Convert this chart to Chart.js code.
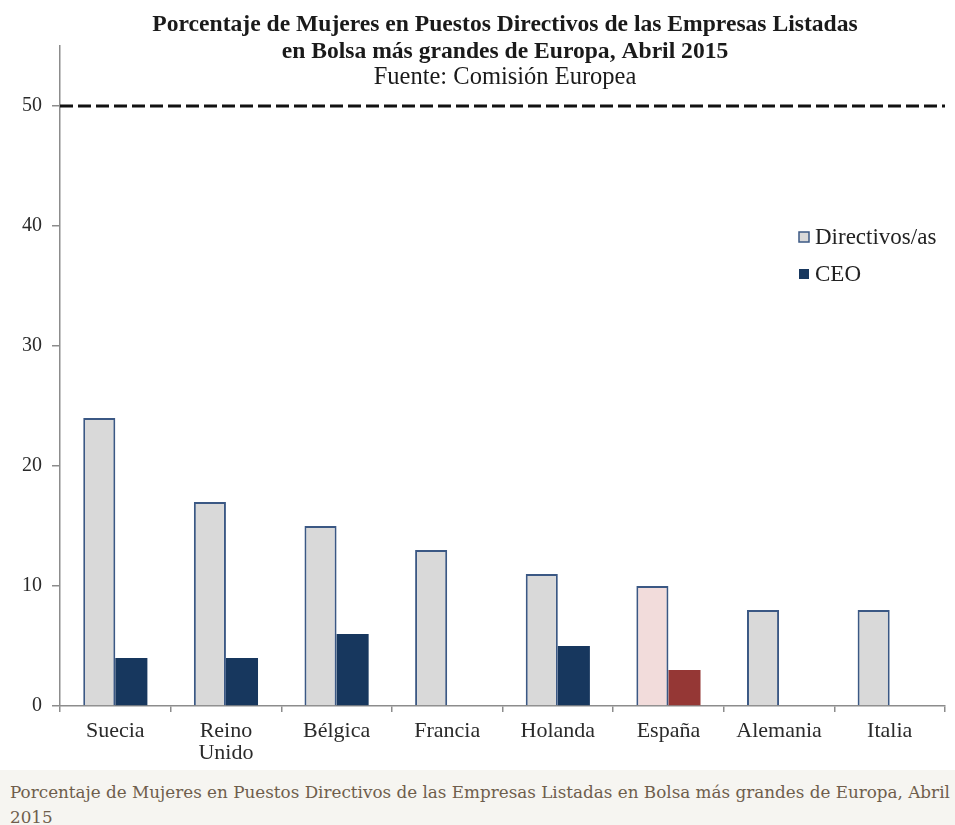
<!DOCTYPE html>
<html>
<head>
<meta charset="utf-8">
<script src="https://cdn.jsdelivr.net/npm/chart.js@4/dist/chart.umd.min.js"></script>
<style>
  html, body { margin: 0; padding: 0; background: #ffffff; }
  #wrap { position: relative; width: 955px; height: 770px; overflow: hidden; }
  #c { position: absolute; left: 0; top: 0; }
  #caption {
    width: 945px; margin: 0; padding: 10px 0 0 10px; height: 45px;
    background: #f6f5f1; color: #6f5e4c;
    font-family: "DejaVu Serif", serif; font-size: 16.8px; line-height: 25px;
    overflow: hidden;
  }
</style>
</head>
<body>
<div id="wrap"><canvas id="c" width="955" height="772"></canvas></div>
<div id="caption">Porcentaje de Mujeres en Puestos Directivos de las Empresas Listadas en Bolsa más grandes de Europa, Abril 2015</div>
<script>
// ---- data ----
const categories = ["Suecia", ["Reino", "Unido"], "Bélgica", "Francia", "Holanda", "España", "Alemania", "Italia"];
const directivosValues = [24, 17, 15, 13, 11, 10, 8, 8];
const ceoValues = [4, 4, 6, null, 5, 3, null, null];
const seriesLabels = ["Directivos/as", "CEO"];
const yTickValues = [0, 10, 20, 30, 40, 50];
const referenceLine = 50;
const highlightIndex = 5; // España
const titleLines = ["Porcentaje de Mujeres en Puestos Directivos de las Empresas Listadas", "en Bolsa más grandes de Europa, Abril 2015"];
const subtitleText = "Fuente: Comisión Europea";

// ---- styles ----
const dirFill = categories.map((c, i) => i === highlightIndex ? "#f2dcdb" : "#d9d9d9");
const ceoFill = categories.map((c, i) => i === highlightIndex ? "#953735" : "#17375e");
const dirBorder = "#3b5884";
const serif = "'Liberation Serif', 'Times New Roman', serif";

const refLinePlugin = {
  id: "refLine",
  afterDatasetsDraw(chart) {
    const { ctx, chartArea } = chart;
    const y = chart.scales.y.getPixelForValue(referenceLine);
    ctx.save();
    ctx.strokeStyle = "#111111";
    ctx.lineWidth = 3;
    ctx.setLineDash([13, 5]);
    ctx.beginPath();
    ctx.moveTo(chartArea.left, y);
    ctx.lineTo(chartArea.right, y);
    ctx.stroke();
    ctx.restore();
  }
};

const titlePlugin = {
  id: "titleText",
  afterDraw(chart) {
    const { ctx } = chart;
    const cx = 505;
    ctx.save();
    ctx.fillStyle = "#1a1a1a";
    ctx.textAlign = "center";
    ctx.textBaseline = "middle";
    ctx.font = "bold 23.6px " + serif;
    ctx.fillText(titleLines[0], cx, 25);
    ctx.fillText(titleLines[1], cx, 52);
    ctx.font = "24.5px " + serif;
    ctx.fillText(subtitleText, cx, 78);
    ctx.restore();
  }
};

const legendPlugin = {
  id: "innerLegend",
  afterDraw(chart) {
    const { ctx, chartArea } = chart;
    const x0 = chartArea.right - 146;
    const rows = [chartArea.top + 191, chartArea.top + 228];
    ctx.save();
    ctx.font = "23px " + serif;
    ctx.textBaseline = "middle";
    ctx.textAlign = "left";
    chart.data.datasets.forEach((ds, i) => {
      const y = rows[i];
      ctx.fillStyle = i === 0 ? "#d9d9d9" : "#17375e";
      ctx.fillRect(x0, y - 5, 10, 10);
      ctx.strokeStyle = dirBorder;
      ctx.lineWidth = 1.5;
      if (i === 0) ctx.strokeRect(x0, y - 5, 10, 10);
      ctx.fillStyle = "#222222";
      ctx.fillText(ds.label, x0 + 16, y + 1);
    });
    ctx.restore();
  }
};

new Chart(document.getElementById("c"), {
  type: "bar",
  data: {
    labels: categories,
    datasets: [
      { label: seriesLabels[0], data: directivosValues, backgroundColor: dirFill, borderColor: dirBorder, borderWidth: 2 },
      { label: seriesLabels[1], data: ceoValues, backgroundColor: ceoFill, borderColor: ceoFill, borderWidth: 0 }
    ]
  },
  options: {
    responsive: false,
    animation: false,
    layout: { padding: { top: 46, right: 10, bottom: 0, left: 12 } },
    datasets: { bar: { categoryPercentage: 0.58, barPercentage: 1.0 } },
    plugins: { legend: { display: false }, title: { display: false }, tooltip: { enabled: false } },
    scales: {
      x: {
        grid: { display: true, drawOnChartArea: false, drawTicks: true, tickLength: 6, color: "#8c8c8c", lineWidth: 1.5, offset: true },
        border: { display: true, color: "#8c8c8c", width: 1.5 },
        ticks: { color: "#2a2a2a", font: { family: serif, size: 22, lineHeight: 1.0 }, padding: 8, maxRotation: 0, autoSkip: false }
      },
      y: {
        min: 0, max: 55,
        afterBuildTicks(scale) { scale.ticks = yTickValues.map(v => ({ value: v })); },
        grid: { display: true, drawOnChartArea: false, drawTicks: true, tickLength: 8, color: "#8c8c8c", lineWidth: 1.5 },
        border: { display: true, color: "#8c8c8c", width: 1.5 },
        ticks: { color: "#2a2a2a", font: { family: serif, size: 20 }, padding: 10, includeBounds: false }
      }
    }
  },
  plugins: [refLinePlugin, titlePlugin, legendPlugin]
});
</script>
</body>
</html>
